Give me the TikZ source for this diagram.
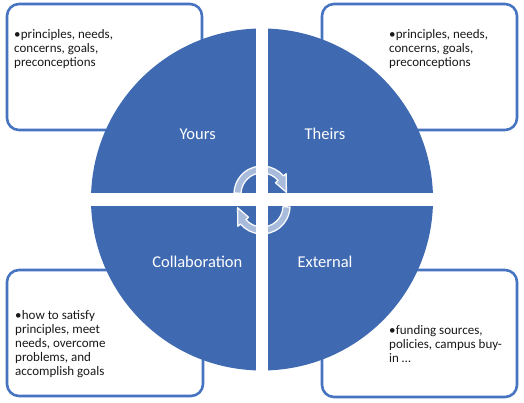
\documentclass[tikz,border=0pt]{standalone}
\usepackage{fontspec}
\setmainfont{Carlito}
\definecolor{quadblue}{RGB}{63,105,176}
\definecolor{boxblue}{RGB}{70,116,193}
\definecolor{txtgray}{RGB}{25,25,25}
\newcommand\mybul[1]{\parbox[t]{170pt}{\fontsize{13}{14}\selectfont\raggedright\hangindent=6.7pt\hangafter=1\noindent\makebox[6.7pt][l]{\textbullet}#1}}
\tikzset{
  cornerbox/.style={draw=boxblue, fill=white, line width=2.6pt, rounded corners=12pt},
  boxtext/.style={anchor=base west, inner sep=0pt, text=txtgray},
  quadlabel/.style={anchor=base, inner sep=0pt, text=white, font=\fontsize{16.5}{18}\selectfont},
  cyclearrow/.style={fill=white, fill opacity=0.55, draw=white, draw opacity=0.95, line width=1.3pt, line join=round}
}
\begin{document}
\begin{tikzpicture}[x=1pt,y=1pt]
\useasboundingbox (0,0) rectangle (524,403);
% corner boxes
\draw[cornerbox] (7,273) rectangle (202,399);
\draw[cornerbox] (322,273) rectangle (517,399);
\draw[cornerbox] (7,7) rectangle (203,133);
\draw[cornerbox] (322,6) rectangle (517,133);
% circle quadrants
\coordinate (C) at (262,203.5);
\fill[quadblue] (C) circle[radius=171];
\begin{scope}
  \clip (C) circle[radius=172];
  \fill[white] ([shift={(-6,-175)}]C) rectangle ([shift={(6,175)}]C);
  \fill[white] ([shift={(-175,-6.5)}]C) rectangle ([shift={(175,6.5)}]C);
\end{scope}
% cycle arrows
\coordinate (U) at (262,209);
\coordinate (L) at (262,197);
\path[cyclearrow] ([shift={(U)}]178:21) arc[start angle=178, end angle=40, radius=21]
  -- ([shift={(U)}]40:17.5) -- ([shift={(U)}]4:24.5) -- ([shift={(U)}]40:31.5)
  -- ([shift={(U)}]40:28) arc[start angle=40, end angle=178, radius=28] -- cycle;
\path[cyclearrow] ([shift={(L)}]-2:21) arc[start angle=-2, end angle=-140, radius=21]
  -- ([shift={(L)}]-140:17.5) -- ([shift={(L)}]-176:24.5) -- ([shift={(L)}]-140:31.5)
  -- ([shift={(L)}]-140:28) arc[start angle=-140, end angle=-2, radius=28] -- cycle;
% quadrant labels
\node[quadlabel] (yours) at (197.7,263) {Yours};
\node[quadlabel] (theirs) at (325,263) {Theirs};
\node[quadlabel] (collab) at (197.3,135.3) {Collaboration};
\node[quadlabel] (external) at (325,135.3) {External};
% box texts
\node[boxtext] (tltext) at (14,364.5) {\mybul{principles, needs,\\concerns, goals,\\preconceptions}};
\node[boxtext] (trtext) at (389,364.5) {\mybul{principles, needs,\\concerns, goals,\\preconceptions}};
\node[boxtext] (bltext) at (15,83) {\mybul{how to satisfy\\principles, meet\\needs, overcome\\problems, and\\accomplish goals}};
\node[boxtext] (brtext) at (389,68) {\mybul{funding sources,\\policies, campus buy-\\in \ldots}};
\end{tikzpicture}
\end{document}
